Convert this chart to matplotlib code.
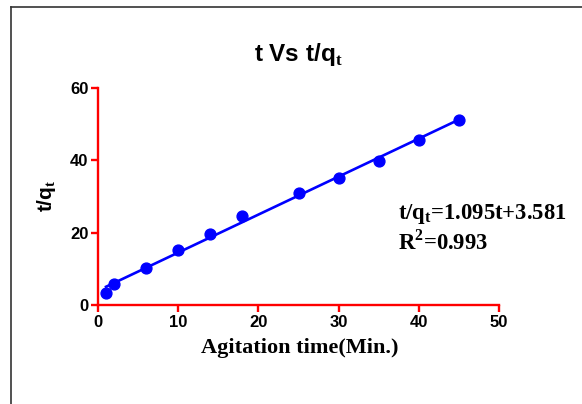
import numpy as np
import matplotlib
matplotlib.use("Agg")
import matplotlib.pyplot as plt
from matplotlib.lines import Line2D

# Data
time_min = [1, 2, 6, 10, 14, 18, 25, 30, 35, 40, 45]
t_over_qt = [3.2, 5.8, 10.3, 15.1, 19.7, 24.5, 31.1, 35.0, 39.9, 45.5, 51.2]
x_ticks = [0, 10, 20, 30, 40, 50]
y_ticks = [0, 20, 40, 60]
title = r"t Vs t/q$_\mathbf{t}$"
x_label = "Agitation time(Min.)"
y_label = r"t/q$_\mathbf{t}$"
eq_line1 = r"t/q$_\mathbf{t}$=1.095t+3.581"
eq_line2 = r"R$^\mathbf{2}$=0.993"

plt.rcParams["mathtext.fontset"] = "custom"
plt.rcParams["mathtext.bf"] = "Liberation Sans:bold"
plt.rcParams["mathtext.rm"] = "Liberation Sans"

fig = plt.figure(figsize=(5.82, 4.04), dpi=100)
ax = fig.add_axes([98 / 582, 1 - 305 / 404, (499 - 98) / 582, (305 - 88) / 404])

x = np.array(time_min, dtype=float)
y = np.array(t_over_qt, dtype=float)
slope, intercept = np.polyfit(x, y, 1)
xf = np.array([x.min(), x.max()])
ax.plot(xf, slope * xf + intercept, color="#0000ff", lw=1.9, zorder=2)
ax.plot(x, y, "o", color="#0000ff", ms=7.8, zorder=3, clip_on=False)

ax.set_xlim(0, 50)
ax.set_ylim(0, 60)
ax.set_xticks(x_ticks)
ax.set_yticks(y_ticks)
for s in ["top", "right"]:
    ax.spines[s].set_visible(False)
for s in ["left", "bottom"]:
    ax.spines[s].set_color("#ff0000")
    ax.spines[s].set_linewidth(1.7)
ax.tick_params(axis="both", colors="#ff0000", length=5, width=1.7, direction="out", pad=2)
for lab in ax.get_xticklabels() + ax.get_yticklabels():
    lab.set_color("black")
    lab.set_fontfamily("Liberation Sans")
    lab.set_fontweight("bold")
    lab.set_fontsize(12)

fig.text(298 / 582, 1 - 54 / 404, title, ha="center", va="center",
         fontfamily="Liberation Sans", fontweight="bold", fontsize=17.5)

fig.text(300 / 582, 1 - 348 / 404, x_label, ha="center", va="center",
         fontfamily="Liberation Serif", fontweight="bold", fontsize=16)

fig.text(46 / 582, 1 - 196 / 404, y_label, ha="center", va="center", rotation=90,
         fontfamily="Liberation Sans", fontweight="bold", fontsize=15)

plt.rcParams["mathtext.bf"] = "Liberation Serif:bold"
plt.rcParams["mathtext.rm"] = "Liberation Serif"
fig.text(398 / 582, 1 - 214 / 404, eq_line1, ha="left", va="center",
         fontfamily="Liberation Serif", fontweight="bold", fontsize=16.3)
fig.text(398 / 582, 1 - 242 / 404, eq_line2, ha="left", va="center",
         fontfamily="Liberation Serif", fontweight="bold", fontsize=16.3)

# frame border (top and left edges visible)
fig.add_artist(Line2D([11 / 582, 1.0], [1 - 7 / 404, 1 - 7 / 404], transform=fig.transFigure,
                      color="#333333", lw=1.2))
fig.add_artist(Line2D([11 / 582, 11 / 582], [0.0, 1 - 7 / 404], transform=fig.transFigure,
                      color="#333333", lw=1.2))

fig.savefig("out.png", dpi=100)
